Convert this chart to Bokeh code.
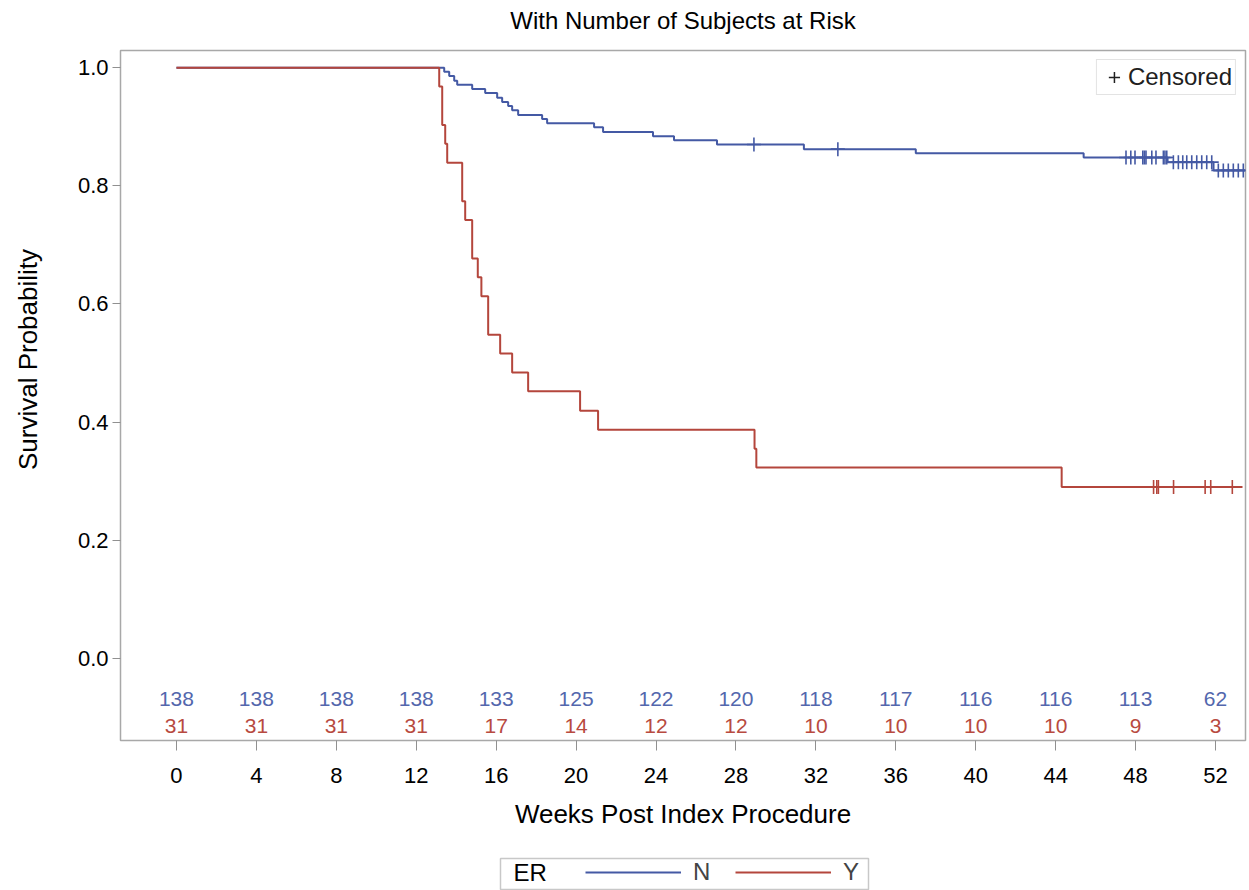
import numpy as np
from bokeh.plotting import figure
from bokeh.layouts import column, row
from bokeh.models import (Range1d, FixedTicker, Legend, LegendItem, Label, PrintfTickFormatter,
                          LinearAxis)
from bokeh.embed import file_html
from bokeh.resources import INLINE
from bokeh.core.properties import value

FONT = "Liberation Sans"
BLUE = "#4459a4"
RED = "#b4463c"

# ---- data ----
n_times = [0, 13.4, 13.65, 13.9, 14.05, 14.8, 15.45, 16.05, 16.3, 16.6, 16.8, 17.1, 18.3, 18.55,
           20.9, 21.35, 23.85, 24.9, 27.05, 31.4, 37.0, 45.4, 49.6, 51.9]
n_surv = [1.0, 0.993, 0.986, 0.978, 0.971, 0.964, 0.957, 0.949, 0.942, 0.935, 0.928, 0.920, 0.913, 0.906,
          0.899, 0.891, 0.884, 0.877, 0.870, 0.862, 0.855, 0.848, 0.840, 0.826]
n_end = 53.5

y_times = [0, 13.15, 13.3, 13.45, 13.55, 14.3, 14.45, 14.8, 15.08, 15.26, 15.6, 16.2, 16.8, 17.6,
           20.2, 21.1, 28.93, 29.02, 44.3]
y_surv = [1.0, 0.968, 0.903, 0.871, 0.839, 0.774, 0.742, 0.677, 0.645, 0.613, 0.548, 0.516, 0.484, 0.452,
          0.419, 0.387, 0.355, 0.323, 0.290]
y_end = 53.35

n_cens_t = [28.9, 33.1, 47.52, 47.76, 47.97, 48.36, 48.44, 48.52, 48.81, 49.02, 49.39, 49.47,
            49.56, 49.89, 50.14, 50.36, 50.56, 50.81, 51.06, 51.31, 51.56, 51.81, 52.14, 52.39,
            52.64, 52.89, 53.14, 53.39]
y_cens_t = [48.9, 49.06, 49.14, 49.9, 51.48, 51.76, 52.84]

risk_times = [0, 4, 8, 12, 16, 20, 24, 28, 32, 36, 40, 44, 48, 52]
risk_n = [138, 138, 138, 138, 133, 125, 122, 120, 118, 117, 116, 116, 113, 62]
risk_y = [31, 31, 31, 31, 17, 14, 12, 12, 10, 10, 10, 10, 9, 3]

y_ticks = [0.0, 0.2, 0.4, 0.6, 0.8, 1.0]
x_ticks = list(range(0, 53, 4))


def surv_at(times, surv, t):
    s = surv[0]
    for ti, si in zip(times, surv):
        if ti <= t:
            s = si
    return s


n_cens_s = [surv_at(n_times, n_surv, t) for t in n_cens_t]
y_cens_s = [surv_at(y_times, y_surv, t) for t in y_cens_t]

ROW_N = -0.068
ROW_Y = -0.115

# layout sizes (pixels)
SIDE_W = 55           # strip on the left carrying the y-axis title
LEFT_B = 65           # left border of the main plot (tick labels)
TOP_B = 50
BOTTOM_B = 112
FRAME_W = 1125
FRAME_H = 690
RIGHT_B = 3
TOTAL_W = SIDE_W + LEFT_B + FRAME_W + RIGHT_B
STRIP_H = 38
YTITLE_CENTER = 359   # page y of the y-axis title centre

p = figure(frame_width=FRAME_W, frame_height=FRAME_H,
           x_range=Range1d(-2.8, 53.5), y_range=Range1d(-0.139, 1.029),
           output_backend="svg", toolbar_location=None,
           min_border_left=LEFT_B, min_border_top=TOP_B, min_border_right=RIGHT_B,
           min_border_bottom=BOTTOM_B)

p.xgrid.visible = False
p.ygrid.visible = False
p.outline_line_color = "#a8a8a8"
p.outline_line_width = 1.5
p.background_fill_color = "white"
p.border_fill_color = "white"

# axes (grab the default ones before adding anything else)
xa = p.below[0]
ya = p.left[0]
xa.ticker = FixedTicker(ticks=x_ticks)
xa.axis_label = "Weeks Post Index Procedure"
ya.ticker = FixedTicker(ticks=y_ticks)
ya.formatter = PrintfTickFormatter(format="%.1f")
for ax in (xa, ya):
    ax.axis_line_color = None
    ax.major_tick_line_color = "#909090"
    ax.major_tick_in = 0
    ax.minor_tick_line_color = None
    ax.major_label_text_font = FONT
    ax.major_label_text_font_size = "22px"
    ax.major_label_text_color = "black"
    ax.axis_label_text_font = FONT
    ax.axis_label_text_font_size = "26px"
    ax.axis_label_text_font_style = "normal"
    ax.axis_label_text_color = "black"
xa.major_tick_out = 10
xa.major_label_standoff = 17
xa.axis_label_standoff = 13
ya.major_tick_out = 8
ya.major_label_standoff = 4

# title carried by an empty axis above the frame
top_ax = LinearAxis(ticker=FixedTicker(ticks=[]), axis_label="With Number of Subjects at Risk")
top_ax.axis_line_color = None
top_ax.major_tick_out = 0
top_ax.major_tick_in = 0
top_ax.minor_tick_out = 0
top_ax.minor_tick_line_color = None
top_ax.major_tick_line_color = None
top_ax.major_label_standoff = 0
top_ax.major_label_text_font_size = "1px"
top_ax.axis_label_standoff = 17
top_ax.axis_label_text_font = FONT
top_ax.axis_label_text_font_size = "24px"
top_ax.axis_label_text_font_style = "normal"
top_ax.axis_label_text_color = "black"
p.add_layout(top_ax, "above")

# curves
nx = n_times + [n_end]
ny = n_surv + [n_surv[-1]]
yx = y_times + [y_end]
yy = y_surv + [y_surv[-1]]
r_n = p.step(nx, ny, mode="after", line_color=BLUE, line_width=2)
r_y = p.step(yx, yy, mode="after", line_color=RED, line_width=2)

p.scatter(n_cens_t, n_cens_s, marker="cross", size=14, line_color=BLUE, line_width=1.6)
p.scatter(y_cens_t, y_cens_s, marker="cross", size=14, line_color=RED, line_width=1.6)

# off-range point only used for the legend glyph
r_cens = p.scatter([-100], [-100], marker="cross", size=12, line_color="#202020", line_width=1.5)

# at-risk table
p.text(risk_times, [ROW_N] * len(risk_times), text=[str(v) for v in risk_n],
       text_align="center", text_baseline="middle", text_font=value(FONT),
       text_font_size="21px", text_color="#5367ad")
p.text(risk_times, [ROW_Y] * len(risk_times), text=[str(v) for v in risk_y],
       text_align="center", text_baseline="middle", text_font=value(FONT),
       text_font_size="21px", text_color="#b84a40")

p.add_layout(Label(x=-4.2, y=ROW_N, text="N", text_align="center", text_baseline="middle",
                   text_font=FONT, text_font_size="22px", text_color=BLUE))
p.add_layout(Label(x=-4.2, y=ROW_Y, text="Y", text_align="center", text_baseline="middle",
                   text_font=FONT, text_font_size="22px", text_color=RED))

# censored legend
leg1 = Legend(items=[LegendItem(label="Censored", renderers=[r_cens])], location="top_right")
leg1.label_text_font = FONT
leg1.label_text_font_size = "24px"
leg1.label_text_color = "#202020"
leg1.glyph_width = 28
leg1.glyph_height = 28
leg1.label_standoff = 0
leg1.padding = 3
leg1.margin = 9
leg1.border_line_color = "#c8c8c8"
leg1.background_fill_alpha = 1
p.add_layout(leg1)


def blank_strip(w, h):
    f = figure(frame_width=w, frame_height=h, x_range=Range1d(0, w), y_range=Range1d(0, h),
               output_backend="svg", toolbar_location=None, x_axis_type=None, y_axis_type=None,
               min_border_left=0, min_border_right=0, min_border_top=0, min_border_bottom=0)
    f.xgrid.visible = False
    f.ygrid.visible = False
    f.outline_line_color = None
    f.background_fill_color = "white"
    f.border_fill_color = "white"
    return f


# ---- left strip with the y-axis title (its frame lines up with the main frame) ----
s = blank_strip(SIDE_W, FRAME_H)
s.text(x=[27], y=[FRAME_H - (YTITLE_CENTER - TOP_B)], text=["Survival Probability"], angle=np.pi / 2,
       text_align="center", text_baseline="middle", text_font=value(FONT),
       text_font_size="26px", text_color="black")

# ---- bottom strip holding the group legend ----
q = blank_strip(TOTAL_W, STRIP_H)
q_n = q.line([-50, -40], [-50, -50], line_color=BLUE, line_width=2)
q_y = q.line([-50, -40], [-50, -50], line_color=RED, line_width=2)
q.quad(left=[500], right=[868], bottom=[1], top=[32], fill_color=None, line_color="#c8c8c8", line_width=1.5)
q.text(x=[513], y=[18], text=["ER"], text_align="left", text_baseline="middle",
       text_font=value(FONT), text_font_size="24px", text_color="black")

leg2 = Legend(items=[LegendItem(label="N", renderers=[q_n]), LegendItem(label="Y", renderers=[q_y])],
              orientation="horizontal", location=(585, 4))
leg2.label_text_font = FONT
leg2.label_text_font_size = "24px"
leg2.glyph_width = 96
leg2.label_standoff = 12
leg2.spacing = 22
leg2.padding = 0
leg2.margin = 0
leg2.border_line_color = None
leg2.background_fill_alpha = 0
q.add_layout(leg2)

layout = column(row(s, p, spacing=0), q, spacing=0)
open("out.html", "w").write(file_html(layout, INLINE))
